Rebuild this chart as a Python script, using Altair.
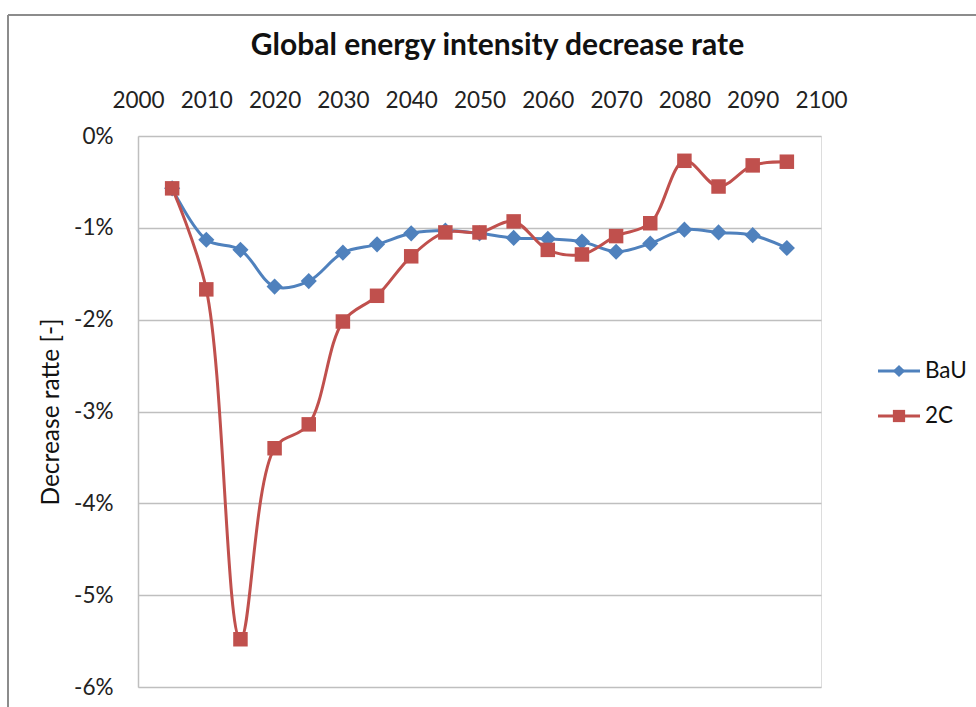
import altair as alt
import pandas as pd

# Annual decrease rate of global energy intensity, in percent
years = [2005, 2010, 2015, 2020, 2025, 2030, 2035, 2040, 2045, 2050,
         2055, 2060, 2065, 2070, 2075, 2080, 2085, 2090, 2095]
bau = [-0.57, -1.13, -1.24, -1.64, -1.58, -1.27, -1.18, -1.06, -1.03, -1.06,
       -1.11, -1.12, -1.15, -1.26, -1.17, -1.02, -1.05, -1.08, -1.22]
two_c = [-0.57, -1.67, -5.48, -3.40, -3.14, -2.02, -1.74, -1.31, -1.05, -1.05,
         -0.93, -1.24, -1.29, -1.09, -0.95, -0.27, -0.55, -0.32, -0.28]
series_names = ["BaU", "2C"]
series_colors = ["#4F81BD", "#C0504D"]
series_shapes = ["diamond", "square"]
x_ticks = list(range(2000, 2101, 10))
y_ticks = [0, -1, -2, -3, -4, -5, -6]

df = pd.DataFrame({
    "year": years * 2,
    "rate": bau + two_c,
    "series": ["BaU"] * len(years) + ["2C"] * len(years),
})
legend_df = pd.DataFrame({"series": series_names})

FONT = "Lato"
GRID = "#BFBFBF"

color_enc = alt.Color("series:N",
                      scale=alt.Scale(domain=series_names, range=series_colors),
                      legend=None)

x_enc = alt.X(
    "year:Q",
    scale=alt.Scale(domain=[2000, 2100], nice=False, zero=False),
    axis=alt.Axis(orient="top", values=x_ticks, format="d", title=None,
                  ticks=False, domain=False, grid=False, labelPadding=24,
                  labelOverlap=False, labelFlush=False, labelBound=False,
                  labelFontSize=22.5, labelFont=FONT, labelColor="#222222"),
)
y_enc = alt.Y(
    "rate:Q",
    scale=alt.Scale(domain=[-6, 0], nice=False),
    axis=alt.Axis(values=y_ticks, labelExpr="datum.value + '%'",
                  title="Decrease ratte [-]", titleFont=FONT,
                  titleFontSize=24.5, titleFontWeight="normal",
                  titleColor="#111111", titlePadding=10,
                  ticks=False, domain=True, domainColor=GRID,
                  domainWidth=1.5, grid=True, gridColor=GRID,
                  gridWidth=1.5, labelPadding=25, labelFontSize=22.5,
                  labelOverlap=False, labelFlush=False,
                  labelFont=FONT, labelColor="#222222"),
)

lines = alt.Chart(df).mark_line(
    interpolate="catmull-rom", strokeWidth=3
).encode(x=x_enc, y=y_enc, color=color_enc)

bau_points = alt.Chart(df).transform_filter(
    alt.datum.series == "BaU"
).mark_point(shape="diamond", filled=True, size=260, opacity=1,
             color=series_colors[0]).encode(x="year:Q", y="rate:Q")

two_c_points = alt.Chart(df).transform_filter(
    alt.datum.series == "2C"
).mark_point(shape="square", filled=True, size=210, opacity=1,
             color=series_colors[1]).encode(x="year:Q", y="rate:Q")

# chart-area frame along the top and left edges
frame_src = alt.Data(values=[{"k": 0}])
frame_top = alt.Chart(frame_src).mark_rule(color="#8C8C8C", strokeWidth=2).encode(
    x=alt.value(-130), x2=alt.value(860), y=alt.value(-121))
frame_left = alt.Chart(frame_src).mark_rule(color="#8C8C8C", strokeWidth=2).encode(
    x=alt.value(-130), y=alt.value(-121), y2=alt.value(600))

plot = alt.layer(frame_top, frame_left, lines, bau_points, two_c_points)

# legend on the right: line swatch, marker and series name per row
legend_y = alt.Y("series:N", axis=None,
                 scale=alt.Scale(type="point", domain=series_names,
                                 range=[235, 280], padding=0))
legend_swatch = alt.Chart(legend_df).mark_rule(strokeWidth=3).encode(
    x=alt.value(740), x2=alt.value(782), y=legend_y, color=color_enc)
legend_marker = alt.Chart(legend_df).mark_point(
    filled=True, size=150, opacity=1
).encode(
    x=alt.value(761), y=legend_y, color=color_enc,
    shape=alt.Shape("series:N",
                    scale=alt.Scale(domain=series_names, range=series_shapes),
                    legend=None),
)
legend_text = alt.Chart(legend_df).mark_text(
    align="left", baseline="middle", font=FONT, fontSize=22.5, color="#111111"
).encode(x=alt.value(787), y=legend_y, text="series:N")
legend = alt.layer(legend_swatch, legend_marker, legend_text)

chart = alt.layer(plot, legend).resolve_scale(y="independent").properties(
    width=683, height=551,
    title=alt.TitleParams(
        "Global energy intensity decrease rate", font=FONT, fontSize=30,
        fontWeight="bold", color="#111111", anchor="middle", dx=18,
        baseline="alphabetic", offset=-71),
    autosize=alt.AutoSizeParams(type="none"),
    padding={"left": 138, "top": 136, "right": 155, "bottom": 20},
).configure_view(stroke=None).configure(background="white")

chart.save("out.html", embed_options={"renderer": "svg", "actions": False})
